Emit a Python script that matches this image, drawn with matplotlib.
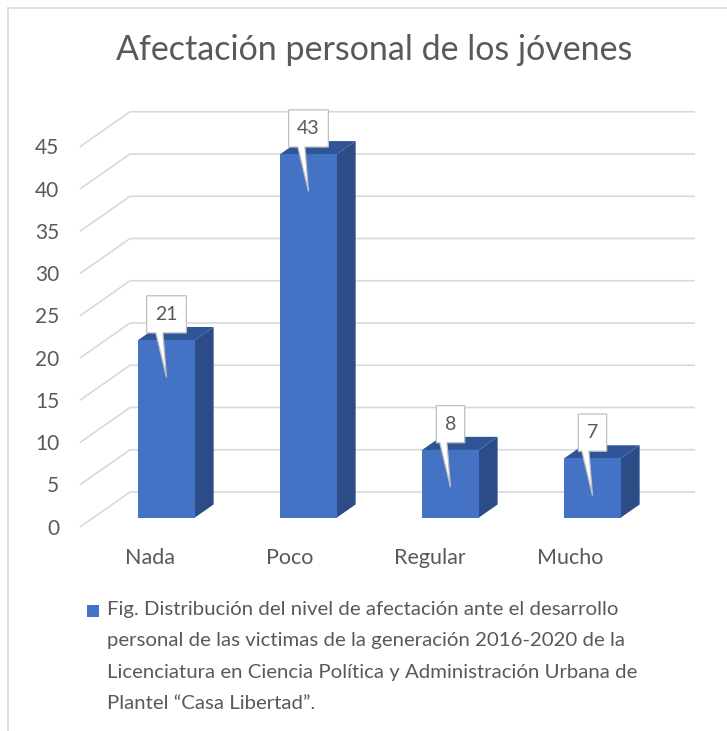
import numpy as np
import matplotlib.pyplot as plt
from matplotlib.patches import Polygon, Rectangle
from matplotlib.lines import Line2D

# Data
categories = ["Nada", "Poco", "Regular", "Mucho"]
values = [21, 43, 8, 7]
y_ticks = [0, 5, 10, 15, 20, 25, 30, 35, 40, 45]
title = "Afectación personal de los jóvenes"
legend_text = ("Fig. Distribución del nivel de afectación ante el desarrollo\n"
               "personal de las victimas de la generación 2016-2020 de la\n"
               "Licenciatura en Ciencia Política y Administración Urbana de\n"
               "Plantel \u201cCasa Libertad\u201d.")

# Style
FONT = "Lato"
TEXT_COLOR = "#595959"
GRID_COLOR = "#d9d9d9"
FRONT = "#4472c4"
SIDE = "#2c4c88"
TOP = "#2f5597"

# oblique depth (data units) and geometry
DX, DY = 0.352, 4.14
BAR_FRONT, BAR_BACK = 0.27, 0.645
BAR_W = 0.40
X_LEFT, X_RIGHT = -0.514, 3.465
LABEL_STEP = 0.987   # category labels sit slightly tighter than the bars


def proj(x, v, depth):
    """Shift a point of the front plane back by a fraction of the depth."""
    return x + depth * DX, v + depth * DY


W, H = 727, 731
fig = plt.figure(figsize=(W / 100, H / 100), dpi=100)
# axes placed so that category i sits at pixel 153 + 142 i and value v at 527 - 8.45 v
x0, x1 = -1.0, 4.0
v0, v1 = -16.0, 56.0
left = (153 + 142 * x0) / W
right = (153 + 142 * x1) / W
bottom = (H - (527 - 8.45 * v0)) / H
top = (H - (527 - 8.45 * v1)) / H
ax = fig.add_axes([left, bottom, right - left, top - bottom])
ax.set_xlim(x0, x1)
ax.set_ylim(v0, v1)
ax.set_axis_off()

# gridlines: left wall diagonal + back wall
for v in y_ticks:
    p0 = proj(X_LEFT, v, 0)
    p1 = proj(X_LEFT, v, 1)
    p2 = proj(X_RIGHT, v, 1)
    ax.plot([p0[0], p1[0], p2[0]], [p0[1], p1[1], p2[1]],
            color=GRID_COLOR, lw=1.2, zorder=1, solid_capstyle="butt")
    ax.text(-0.66, v - 0.2, str(v), ha="right", va="center", fontsize=15,
            color=TEXT_COLOR, family=FONT)

# bars
for i, v in enumerate(values):
    xl, xr = i - BAR_W / 2, i + BAR_W / 2
    fl = proj(xl, 0, BAR_FRONT)
    fr = proj(xr, 0, BAR_FRONT)
    tl = proj(xl, v, BAR_FRONT)
    tr = proj(xr, v, BAR_FRONT)
    br_b = proj(xr, 0, BAR_BACK)
    br_t = proj(xr, v, BAR_BACK)
    bl_t = proj(xl, v, BAR_BACK)
    ax.add_patch(Polygon([fr, br_b, br_t, tr], closed=True, fc=SIDE, ec="none", zorder=3))
    ax.add_patch(Polygon([tl, tr, br_t, bl_t], closed=True, fc=TOP, ec="none", zorder=3))
    ax.add_patch(Polygon([fl, fr, tr, tl], closed=True, fc=FRONT, ec="none", zorder=4))

    # callout data label
    cx, vt = proj(i, v, BAR_FRONT)
    w = 0.28 if v >= 10 else 0.20
    h = 4.4
    vb = vt + 0.85
    tip = vt - 4.4
    pts = [(cx - w / 2, vb), (cx - 0.075, vb), (cx, tip), (cx - 0.025, vb),
           (cx + w / 2, vb), (cx + w / 2, vb + h), (cx - w / 2, vb + h)]
    ax.add_patch(Polygon(pts, closed=True, fc="white", ec="#bfbfbf", lw=0.9, zorder=5))
    ax.text(cx, vb + h / 2, str(v), ha="center", va="center", fontsize=14,
            color=TEXT_COLOR, family=FONT, zorder=6)

    # category label
    ax.text(-0.024 + LABEL_STEP * i, -3.7, categories[i], ha="center", va="center",
            fontsize=15.5, color=TEXT_COLOR, family=FONT)

# title
fig.text(374 / W, 1 - 50 / H, title, ha="center", va="center", fontsize=24.5,
         color=TEXT_COLOR, family=FONT)

# legend
fig.patches.append(Rectangle((87 / W, 1 - 617 / H), 12 / W, 12 / H,
                             transform=fig.transFigure, fc=FRONT, ec="none"))
fig.text(107 / W, 1 - 601 / H, legend_text, ha="left", va="top", fontsize=14.7,
         color=TEXT_COLOR, family=FONT, linespacing=2.03)

# chart border (top and left visible)
fig.lines.append(Line2D([8 / W, 1], [1 - 8 / H, 1 - 8 / H], transform=fig.transFigure,
                        color=GRID_COLOR, lw=1.2))
fig.lines.append(Line2D([8 / W, 8 / W], [0, 1 - 8 / H], transform=fig.transFigure,
                        color=GRID_COLOR, lw=1.2))

fig.savefig("out.png", dpi=100)
